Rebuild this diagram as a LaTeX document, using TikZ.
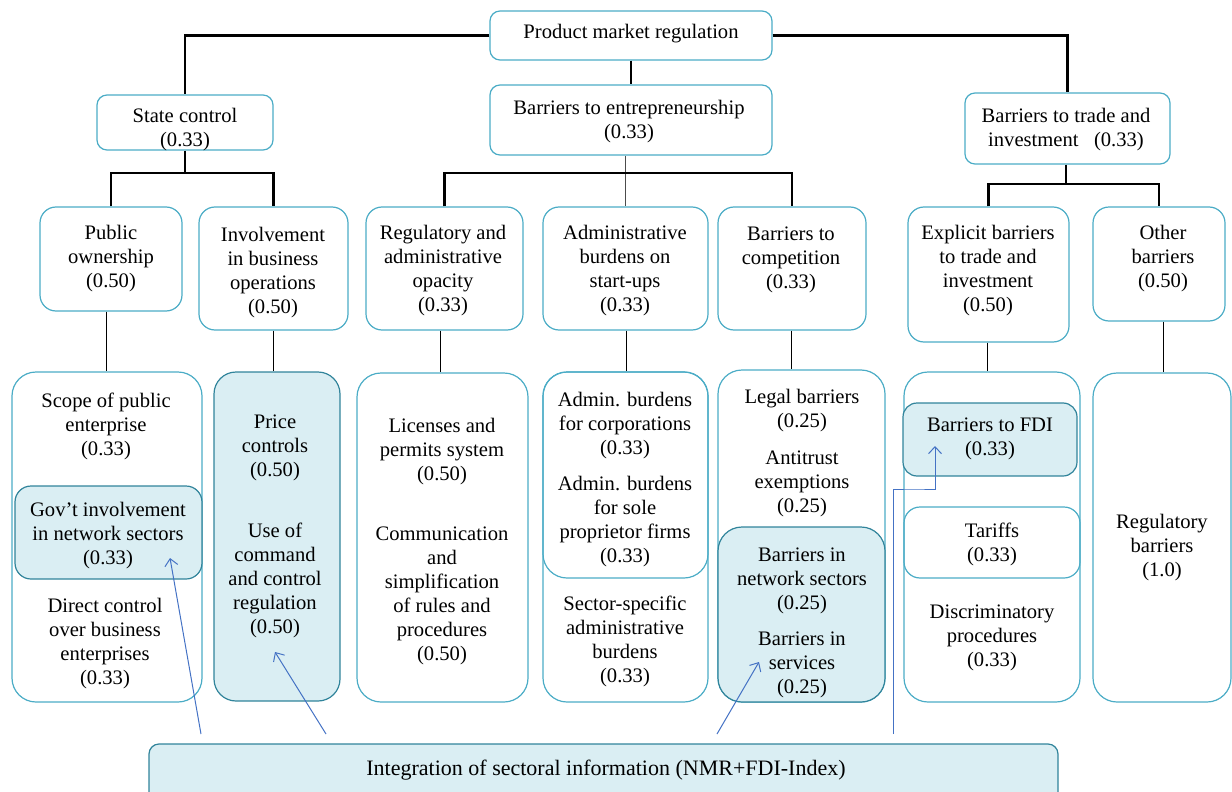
\documentclass[tikz,border=0pt]{standalone}
\usepackage{fontspec}
\setmainfont{Liberation Serif}
\usetikzlibrary{arrows.meta,fit}
\definecolor{bord}{RGB}{75,172,198}
\definecolor{fillb}{RGB}{218,238,243}
\definecolor{bordd}{RGB}{49,132,155}
\definecolor{arr}{RGB}{68,114,196}
\begin{document}
\begin{tikzpicture}[x=1pt,y=-1pt,
  box/.style={draw=bord, line width=1.2pt, rounded corners=10pt, inner sep=0pt},
  bigbox/.style={box, rounded corners=24pt},
  midbox/.style={box, rounded corners=16pt},
  shbox/.style={draw=bordd, fill=fillb, line width=1.2pt, inner sep=0pt},
  txt/.style={align=center, font=\fontsize{20.6}{24}\selectfont, inner sep=0pt, yshift=-2pt},
  thickconn/.style={draw=black, line width=2.6pt},
  thinconn/.style={draw=black, line width=1pt},
  grayconn/.style={draw=black!70, line width=1pt},
  blarrow/.style={draw=arr, line width=1pt, -{Straight Barb[length=7pt,width=13pt]}}
]
\useasboundingbox (0,0) rectangle (1232,792);
% ---------- upper boxes ----------
\node[box, fit={(490,11) (772,60)}] (pmr) {};
\node[box, fit={(97,95) (273,150)}] (sc) {};
\node[box, fit={(490,85) (772,155)}] (bte) {};
\node[box, fit={(965,93) (1170,164)}] (bti) {};
\node[midbox, fit={(40,207) (182,311)}] (po) {};
\node[midbox, fit={(199,207) (348,330)}] (ib) {};
\node[midbox, fit={(366,207) (523,330)}] (ro) {};
\node[midbox, fit={(543,207) (708,330)}] (ab) {};
\node[midbox, fit={(718,207) (866,330)}] (bc) {};
\node[midbox, fit={(908,207) (1069,342)}] (eb) {};
\node[midbox, fit={(1093,207) (1225,321)}] (ob) {};
% ---------- lower boxes ----------
\node[bigbox, fit={(12,372) (202,702)}] (A) {};
\node[shbox, rounded corners=16pt, fit={(15,486) (202,579)}] (Ai) {};
\node[shbox, rounded corners=22pt, fit={(214,372) (340,701)}] (B) {};
\node[bigbox, fit={(357,373) (528,702)}] (C) {};
\node[bigbox, fit={(543,372) (708,702)}] (D) {};
\node[bigbox, fit={(543,372) (708,578)}] (Di) {};
\node[bigbox, fit={(718,370) (885,702)}] (E) {};
\node[shbox, rounded corners=24pt, fit={(718,527) (885,702)}] (Ei) {};
\node[bigbox, fit={(904,372) (1080,702)}] (F) {};
\node[shbox, rounded corners=14pt, fit={(903,403) (1077,476)}] (Fi) {};
\node[midbox, fit={(904,507) (1080,578)}] (Ft) {};
\node[bigbox, fit={(1093,373) (1231,702)}] (G) {};
\node[shbox, rounded corners=10pt, fit={(149,744) (1058,810)}] (int) {};
% ---------- connectors ----------
\coordinate (j1) at (185,173);
\coordinate (j2) at (625,173);
\coordinate (j3) at (1066,184);
\draw[thickconn] (pmr.west) -| (sc.north);
\draw[thickconn] (pmr.east) -| (bti.north);
\draw[thickconn] (pmr.south) -- (bte.north);
\draw[thickconn] (sc.south) -- (j1);
\draw[thickconn] (po.north) |- (j1) -| (ib.north);
\draw[grayconn] (bte.south -| ab.north) -- (ab.north);
\draw[thickconn] (ro.north) |- (j2) -| (bc.north);
\draw[thickconn] (bti.south -| j3) -- (j3);
\draw[thickconn] (eb.north) |- (j3) -| (ob.north);
\draw[thinconn] (po.south -| 106,0) -- (A.north -| 106,0);
\draw[thinconn] (ib.south) -- (B.north -| ib.south);
\draw[thinconn] (ro.south -| 440,0) -- (C.north -| 440,0);
\draw[thinconn] (ab.south -| 626,0) -- (D.north -| 626,0);
\draw[thinconn] (bc.south -| 791,0) -- (E.north -| 791,0);
\draw[thinconn] (eb.south -| 987,0) -- (F.north -| 987,0);
\draw[thinconn] (ob.south -| 1163,0) -- (G.north -| 1163,0);
% ---------- blue arrows ----------
\coordinate (s1) at (201,734); \coordinate (t1) at (170,558);
\coordinate (s2) at (326,734); \coordinate (t2) at (275,652);
\coordinate (s3) at (717,734); \coordinate (t3) at (759,662);
\coordinate (s4) at (893,734); \coordinate (t4) at (935,446);
\draw[blarrow] (s1) -- (t1);
\draw[blarrow] (s2) -- (t2);
\draw[blarrow] (s3) -- (t3);
\draw[blarrow] (s4) |- (914,489) -| (t4);
% ---------- texts ----------
\node[txt] (tpmr) at (631,32) {Product market regulation};
\node[txt] (tsc) at (185,128) {State control\\(0.33)};
\node[txt] (tbte) at (629,120) {Barriers to entrepreneurship\\(0.33)};
\node[txt] (tbti) at (1066,128) {Barriers to trade and\\investment\ \ \ (0.33)};
\node[txt] (tpo) at (111,257) {Public\\ownership\\(0.50)};
\node[txt] (tib) at (273,271) {Involvement\\in business\\operations\\(0.50)};
\node[txt] (tro) at (443,269) {Regulatory and\\administrative\\opacity\\(0.33)};
\node[txt] (tab) at (625,269) {Administrative\\burdens on\\start-ups\\(0.33)};
\node[txt] (tbc) at (791,258) {Barriers to\\competition\\(0.33)};
\node[txt] (teb) at (988,269) {Explicit barriers\\to trade and\\investment\\(0.50)};
\node[txt] (tob) at (1163,257) {Other\\barriers\\(0.50)};
\node[txt] (ta1) at (106,424) {Scope of public\\enterprise\\(0.33)};
\node[txt] (ta2) at (108,534) {Gov’t involvement\\in network sectors\\(0.33)};
\node[txt] (ta3) at (105,642) {Direct control\\over business\\enterprises\\(0.33)};
\node[txt] (tb1) at (275,446) {Price\\controls\\(0.50)};
\node[txt] (tb2) at (275,578) {Use of\\command\\and control\\regulation\\(0.50)};
\node[txt] (tc1) at (442,450) {Licenses and\\permits system\\(0.50)};
\node[txt] (tc2) at (442,594) {Communication\\and\\simplification\\of rules and\\procedures\\(0.50)};
\node[txt] (td1) at (625,424) {Admin. burdens\\for corporations\\(0.33)};
\node[txt] (td2) at (625,520) {Admin. burdens\\for sole\\proprietor firms\\(0.33)};
\node[txt] (td3) at (625,639) {Sector-specific\\administrative\\burdens\\(0.33)};
\node[txt] (te1) at (802,409) {Legal barriers\\(0.25)};
\node[txt] (te2) at (802,482) {Antitrust\\exemptions\\(0.25)};
\node[txt] (te3) at (802,579) {Barriers in\\network sectors\\(0.25)};
\node[txt] (te4) at (802,663) {Barriers in\\services\\(0.25)};
\node[txt] (tf1) at (990,437) {Barriers to FDI\\(0.33)};
\node[txt] (tf2) at (992,542) {Tariffs\\(0.33)};
\node[txt] (tf3) at (992,636) {Discriminatory\\procedures\\(0.33)};
\node[txt] (tg) at (1162,546) {Regulatory\\barriers\\(1.0)};
\node[txt, font=\fontsize{22}{24}\selectfont] (tint) at (606,768) {Integration of sectoral information (NMR+FDI-Index)};
\end{tikzpicture}
\end{document}
